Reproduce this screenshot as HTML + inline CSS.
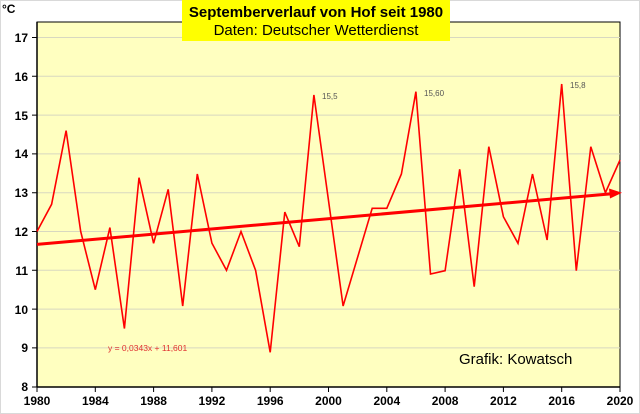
<!DOCTYPE html><html><head><style>body{margin:0;background:#fff}svg{display:block}text{font-family:"Liberation Sans",sans-serif}</style></head><body>
<svg width="640" height="414" viewBox="0 0 640 414">
<rect x="0.5" y="0.5" width="639" height="413" fill="#fff" stroke="#d9d9d9"/>
<rect x="37" y="22" width="583" height="365" fill="#ffffc0" stroke="#000" stroke-width="1"/>
<g stroke="#d8d8c0" stroke-width="1">
<line x1="37" x2="620" y1="37.5" y2="37.5"/><line x1="37" x2="620" y1="76.3" y2="76.3"/><line x1="37" x2="620" y1="115.1" y2="115.1"/><line x1="37" x2="620" y1="153.9" y2="153.9"/><line x1="37" x2="620" y1="192.7" y2="192.7"/><line x1="37" x2="620" y1="231.5" y2="231.5"/><line x1="37" x2="620" y1="270.3" y2="270.3"/><line x1="37" x2="620" y1="309.1" y2="309.1"/><line x1="37" x2="620" y1="347.9" y2="347.9"/>
</g>
<line x1="37" y1="22" x2="37" y2="387" stroke="#000" stroke-width="1.5"/>
<line x1="37" y1="387" x2="620" y2="387" stroke="#000" stroke-width="1.5"/>
<g stroke="#000" stroke-width="1"><path d="M32 37.5h5M32 76.3h5M32 115.1h5M32 153.9h5M32 192.7h5M32 231.5h5M32 270.3h5M32 309.1h5M32 347.9h5M32 387h5"/>
<path d="M37 387v5M95.3 387v5M153.6 387v5M211.9 387v5M270.2 387v5M328.5 387v5M386.8 387v5M445.1 387v5M503.4 387v5M561.7 387v5M620 387v5"/></g>
<g font-size="12" font-weight="bold" text-anchor="end"><text x="28" y="42">17</text><text x="28" y="81">16</text><text x="28" y="120">15</text><text x="28" y="158">14</text><text x="28" y="197">13</text><text x="28" y="236">12</text><text x="28" y="275">11</text><text x="28" y="314">10</text><text x="28" y="352">9</text><text x="28" y="391">8</text></g>
<g font-size="12" font-weight="bold" text-anchor="middle"><text x="37" y="405">1980</text><text x="95.3" y="405">1984</text><text x="153.6" y="405">1988</text><text x="211.9" y="405">1992</text><text x="270.2" y="405">1996</text><text x="328.5" y="405">2000</text><text x="386.8" y="405">2004</text><text x="445.1" y="405">2008</text><text x="503.4" y="405">2012</text><text x="561.7" y="405">2016</text><text x="620" y="405">2020</text></g>
<text x="2" y="13" font-size="12" font-weight="bold">°C</text>
<rect x="182" y="0" width="268" height="41" fill="#ffff00"/>
<text x="316" y="17" font-size="15" font-weight="bold" text-anchor="middle">Septemberverlauf von Hof seit 1980</text>
<text x="316" y="35" font-size="15" text-anchor="middle">Daten: Deutscher Wetterdienst</text>
<polyline fill="none" stroke="#f00" stroke-width="1.6" stroke-linejoin="miter" points="37,231.5 51.6,204.3 66.1,130.6 80.7,231.5 95.3,289.7 109.9,227.6 124.4,328.5 139,177.7 153.6,243.3 168.2,189.3 182.7,306 197.3,174 211.9,243.1 226.5,270.3 241,231.5 255.6,270.3 270.2,352.3 284.8,212.1 299.3,246.7 313.9,95 343.1,306 372.2,208.3 386.8,208.3 401.4,174 415.9,91.7 430.5,274 445.1,270.7 459.7,169.3 474.2,286.7 488.8,146.7 503.4,216.7 518,243.3 532.5,174 547.1,240 561.7,84 576.3,270.7 590.8,146.7 605.4,192.7 620,160"/>
<line x1="37" y1="244.4" x2="612" y2="193.7" stroke="#f00" stroke-width="3"/>
<polygon points="622,192.8 609,188.5 610,198.5" fill="#f00"/>
<g font-size="8" fill="#555"><text x="322" y="99">15,5</text><text x="424" y="96">15,60</text><text x="570" y="88">15,8</text></g>
<text x="108" y="351" font-size="8.5" fill="#e03030">y = 0,0343x + 11,601</text>
<text x="459" y="364" font-size="15">Grafik: Kowatsch</text>
</svg></body></html>
